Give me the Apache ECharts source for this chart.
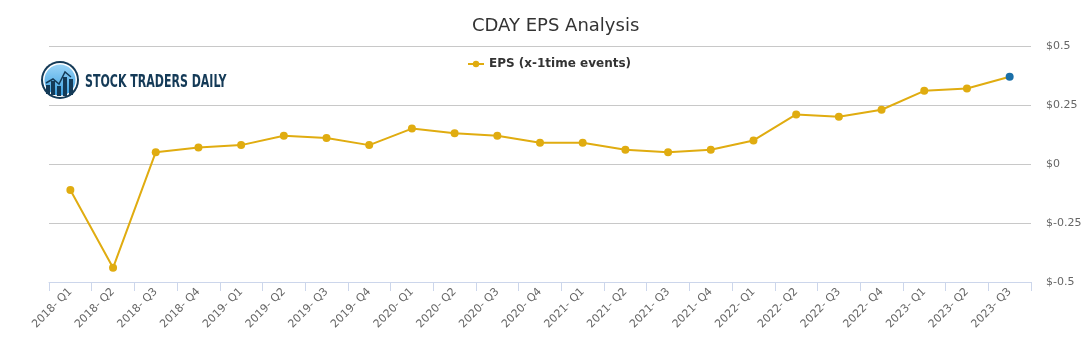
<!DOCTYPE html>
<html lang="en">
<head>
    <meta charset="UTF-8">
    <title>CDAY EPS Analysis</title>
    <script src="https://cdn.jsdelivr.net/npm/echarts@6/dist/echarts.min.js"></script>
</head>
<body style="margin:0">
<div id="chart" style="width:1091px;height:350px;"></div>
<script>
    // quarters on the x axis
    var quarters = ['2018- Q1','2018- Q2','2018- Q3','2018- Q4',
        '2019- Q1','2019- Q2','2019- Q3','2019- Q4',
        '2020- Q1','2020- Q2','2020- Q3','2020- Q4',
        '2021- Q1','2021- Q2','2021- Q3','2021- Q4',
        '2022- Q1','2022- Q2','2022- Q3','2022- Q4',
        '2023- Q1','2023- Q2','2023- Q3'];
    // EPS values
    var eps = [-0.11, -0.44, 0.05, 0.07,
        0.08, 0.12, 0.11, 0.08,
        0.15, 0.13, 0.12, 0.09,
        0.09, 0.06, 0.05, 0.06,
        0.10, 0.21, 0.20, 0.23,
        0.31, 0.32, 0.37];
    var yTicks = [-0.5, -0.25, 0, 0.25, 0.5];

    var lineColor = '#e0ac10';
    var lastColor = '#1a6fa8';
    var navy = '#143a57';

    var seriesData = [];
    for (var i = 0; i < eps.length; i++) {
        var p = {value: eps[i]};
        if (i == eps.length - 1) {
            p.itemStyle = {color: lastColor};
        }
        seriesData.push(p);
    }

    var ct = echarts.init(document.getElementById('chart'));
    var option = {
        animation: false,
        textStyle: {fontFamily: 'DejaVu Sans'},
        title: {
            text: 'CDAY EPS Analysis',
            left: 467,
            top: 12,
            textStyle: {fontSize: 18, fontWeight: 'normal', color: '#333'}
        },
        legend: {
            top: 53,
            left: 462,
            itemWidth: 16,
            itemHeight: 8,
            textStyle: {fontSize: 12, fontWeight: 'bold', color: '#333'},
            data: ['EPS (x-1time events)']
        },
        grid: {left: 49, right: 60, top: 46, bottom: 68},
        xAxis: {
            type: 'category',
            data: quarters,
            boundaryGap: true,
            axisLine: {onZero: false, lineStyle: {color: '#ccd6eb'}},
            axisTick: {show: true, length: 9, lineStyle: {color: '#ccd6eb'}},
            axisLabel: {rotate: 45, color: '#666', fontSize: 11, margin: 8, interval: 0}
        },
        yAxis: {
            type: 'value',
            position: 'right',
            min: yTicks[0],
            max: yTicks[yTicks.length - 1],
            interval: 0.25,
            axisLine: {show: false},
            axisTick: {show: false},
            splitLine: {lineStyle: {color: '#c8c8c8'}},
            axisLabel: {
                color: '#666', fontSize: 11, margin: 15, padding: [3, 0, 0, 0],
                formatter: function (v) { return '$' + v; }
            }
        },
        graphic: [
            {
                type: 'circle',
                shape: {cx: 60, cy: 80, r: 19},
                style: {fill: navy}
            },
            {
                type: 'circle',
                shape: {cx: 60, cy: 80, r: 17},
                style: {fill: '#ffffff'}
            },
            {
                type: 'circle',
                shape: {cx: 60, cy: 80, r: 15.5},
                style: {
                    fill: {
                        type: 'linear', x: 0, y: 0, x2: 0, y2: 1,
                        colorStops: [{offset: 0, color: '#9ad4f7'}, {offset: 1, color: '#3a9fe0'}]
                    }
                }
            },
            {type: 'rect', shape: {x: 46, y: 85, width: 4, height: 9}, style: {fill: navy}},
            {type: 'rect', shape: {x: 51, y: 81, width: 4, height: 14}, style: {fill: navy}},
            {type: 'rect', shape: {x: 57, y: 86, width: 4, height: 10}, style: {fill: navy}},
            {type: 'rect', shape: {x: 63, y: 77, width: 4, height: 19}, style: {fill: navy}},
            {type: 'rect', shape: {x: 69, y: 79, width: 4, height: 16}, style: {fill: navy}},
            {
                type: 'polyline',
                shape: {points: [[46, 83], [53, 79], [59, 84], [65, 72], [71, 77]]},
                style: {stroke: navy, lineWidth: 1.5, fill: null}
            },
            {
                type: 'text',
                x: 85,
                y: 73,
                scaleX: 0.68,
                style: {
                    text: 'STOCK TRADERS DAILY',
                    fill: navy,
                    font: 'bold 18px "DejaVu Sans Condensed", "DejaVu Sans", sans-serif'
                }
            }
        ],
        series: [
            {
                name: 'EPS (x-1time events)',
                type: 'line',
                data: seriesData,
                symbol: 'circle',
                symbolSize: 8,
                lineStyle: {color: lineColor, width: 2},
                itemStyle: {color: lineColor}
            }
        ]
    };
    ct.setOption(option);
</script>
</body>
</html>
